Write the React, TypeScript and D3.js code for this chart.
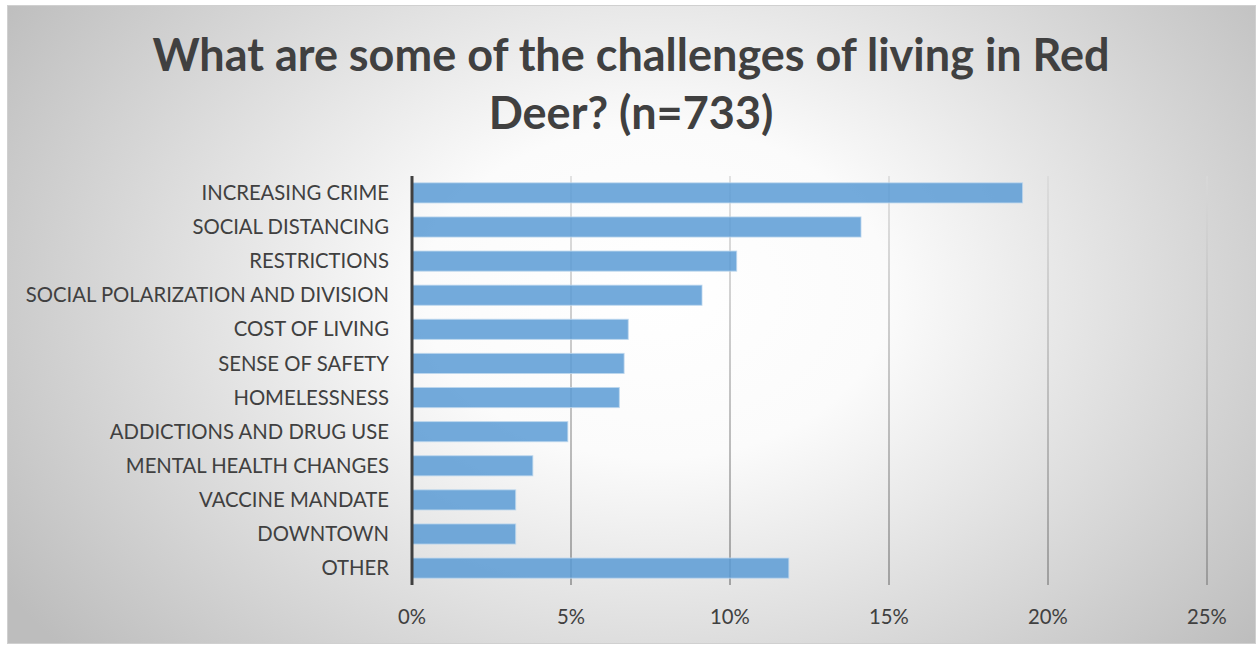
import React from "react";
import * as d3 from "d3";

const categories = [
  "INCREASING CRIME",
  "SOCIAL DISTANCING",
  "RESTRICTIONS",
  "SOCIAL POLARIZATION AND DIVISION",
  "COST OF LIVING",
  "SENSE OF SAFETY",
  "HOMELESSNESS",
  "ADDICTIONS AND DRUG USE",
  "MENTAL HEALTH CHANGES",
  "VACCINE MANDATE",
  "DOWNTOWN",
  "OTHER",
];
const values = [0.192, 0.1412, 0.1021, 0.0912, 0.068, 0.0667, 0.0652, 0.049, 0.038, 0.0326, 0.0326, 0.1185];
const ticks = [0, 0.05, 0.1, 0.15, 0.2, 0.25];
const titleLines = ["What are some of the challenges of living in Red", "Deer? (n=733)"];

const W = 1257;
const H = 645;
const FONT = "Lato, 'Open Sans', sans-serif";

export default function App() {
  const x = d3.scaleLinear().domain([0, 0.25]).range([412, 1207]);
  const y = d3.scaleBand().domain(categories).range([176, 585]).paddingInner(0.41).paddingOuter(0.2);
  const fmt = d3.format(".0%");
  return (
    <svg width={W} height={H} style={{ position: "absolute", left: 0, top: 0 }}>
      <defs>
        <radialGradient id="bg" cx="0.52" cy="0.45" r="0.62" gradientTransform="translate(0.52,0.45) scale(1,1.4) translate(-0.52,-0.45)">
          <stop offset="0" stopColor="#ffffff" />
          <stop offset="0.3" stopColor="#fbfbfb" />
          <stop offset="1" stopColor="#bdbdbd" />
        </radialGradient>
        <linearGradient id="grid" gradientUnits="userSpaceOnUse" x1="0" y1="176" x2="0" y2="585">
          <stop offset="0" stopColor="#d9d9d9" />
          <stop offset="1" stopColor="#8c8c8c" />
        </linearGradient>
      </defs>
      <rect x={0} y={0} width={W} height={H} fill="#ffffff" />
      <rect x={7.5} y={5.5} width={1248} height={638} fill="url(#bg)" stroke="#d0d0d0" strokeWidth={1} />
      {titleLines.map((t, i) => (
        <text key={i} x={631} y={71 + i * 58} textAnchor="middle" fontFamily={FONT} fontWeight={700} fontSize={45} fill="#404040">
          {t}
        </text>
      ))}
      {ticks.slice(1).map((t) => (
        <line key={t} x1={x(t)} x2={x(t)} y1={176} y2={585} stroke="url(#grid)" strokeWidth={1.5} />
      ))}
      {categories.map((c, i) => (
        <rect
          key={c}
          x={x(0)}
          y={y(c)}
          width={x(values[i]) - x(0)}
          height={y.bandwidth()}
          fill="#5b9bd5"
          fillOpacity={0.85}
          stroke="#bdd7ee"
          strokeOpacity={0.8}
          strokeWidth={1}
        />
      ))}
      <line x1={x(0)} x2={x(0)} y1={176} y2={585} stroke="#404040" strokeWidth={3} />
      {categories.map((c) => (
        <text key={c} x={389} y={(y(c) as number) + y.bandwidth() / 2} dy="0.35em" textAnchor="end" fontFamily={FONT} fontSize={20.3} fill="#404040">
          {c}
        </text>
      ))}
      {ticks.map((t) => (
        <text key={t} x={x(t)} y={624} textAnchor="middle" fontFamily={FONT} fontSize={20.3} fill="#404040">
          {fmt(t)}
        </text>
      ))}
    </svg>
  );
}
